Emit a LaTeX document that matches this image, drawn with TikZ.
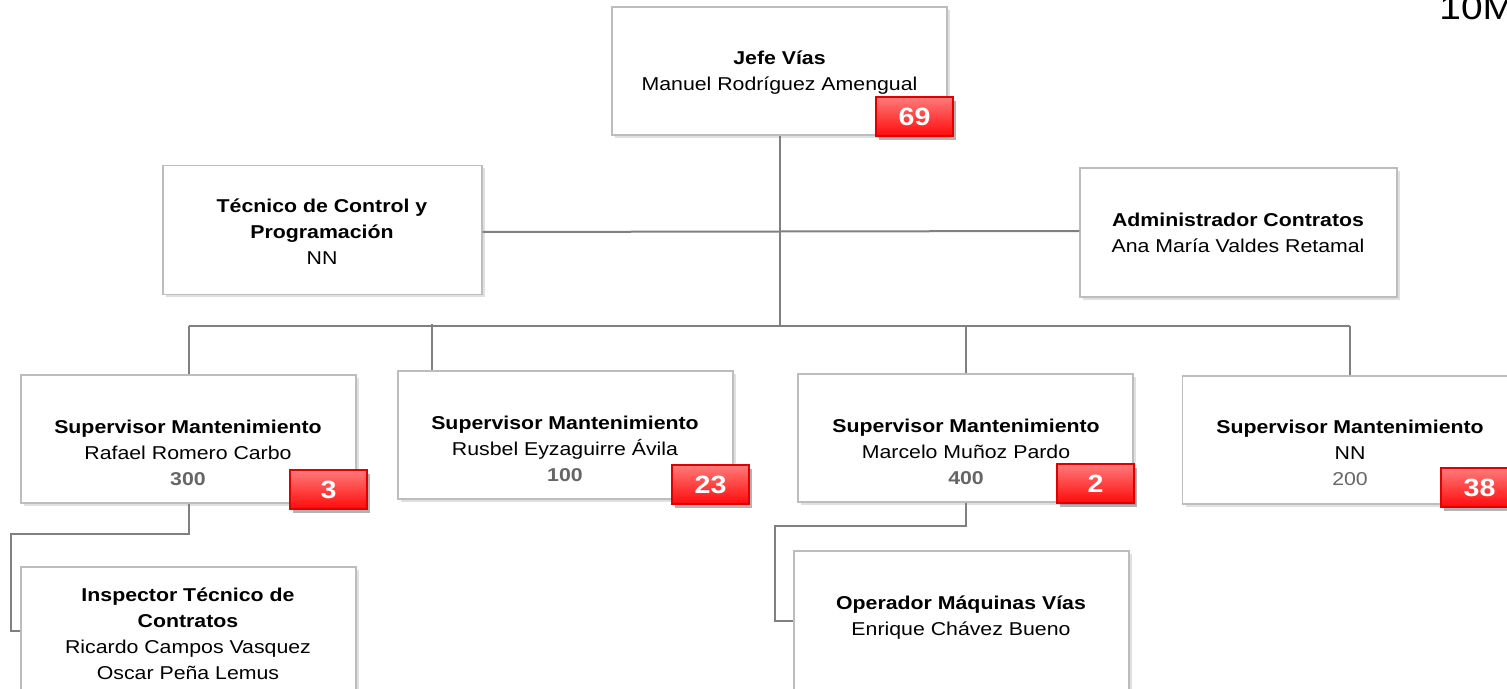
\documentclass[tikz,border=0pt]{standalone}
\usepackage{fontspec}
\setmainfont{Liberation Sans}[FakeStretch=1.145]
\usetikzlibrary{positioning,shadows}
\definecolor{lineGray}{HTML}{808080}
\definecolor{boxGray}{HTML}{BDBDBD}
\definecolor{numGray}{HTML}{666666}
\definecolor{badgeTop}{HTML}{FF7B7B}
\definecolor{badgeBot}{HTML}{FF0A0A}
\definecolor{badgeLine}{HTML}{E00000}
\tikzset {
    style A/.style={
        fill=white,
        draw=boxGray,
        line width=.7pt,
        rectangle, % Set the shape as a rectangle
        minimum width=167.5pt,
        minimum height=64pt,
        drop shadow={shadow xshift=1.5pt, shadow yshift=-1.5pt, opacity=.12, fill=black},
    },
    style B/.style={
        font=\fontsize{9.3}{13}\selectfont,
        align=center,
        inner sep=0pt,
    },
    style C/.style={
        top color=badgeTop,
        bottom color=badgeBot,
        draw=badgeLine,
        line width=.6pt,
        rectangle, % Set the shape as a rectangle
        minimum width=38.5pt,
        minimum height=19.5pt,
        inner sep=0pt,
        text=white,
        font=\fontsize{12.5}{14}\selectfont\bfseries,
        drop shadow={shadow xshift=1.5pt, shadow yshift=-2pt, opacity=.3, fill=black},
    },
    style D/.style={
        draw=lineGray,
        line width=1pt,
    },
}

\begin{document}
\begin{tikzpicture}[x=0.5pt, y=-0.5pt]
    \useasboundingbox (0,0) rectangle (1507,689);
    \clip (0,0) rectangle (1507,689);

    % boxes
    \node[style A] (Jefe) at (779.5,71) {};
    \node[style A, minimum width=159.5pt, minimum height=64.5pt] (Tec) at (322.5,230) {};
    \node[style A, minimum width=158.5pt, minimum height=64.5pt] (Adm) at (1238.5,232.5) {};
    \node[style A] (Sup1) at (188.5,439) {};
    \node[style A] (Sup2) at (565.5,435) {};
    \node[style A] (Sup3) at (965.5,438) {};
    \node[style A] (Sup4) at (1350,440) {};
    \node[style A] (Insp) at (188.5,631) {};
    \node[style A, minimum height=70pt] (Oper) at (961.5,621) {};

    % connectors
    \coordinate (busL) at (188.5,326);
    \coordinate (busR) at (1350,326);
    \coordinate (tap2) at (432,324);
    \draw[style D] (busL) -- (busR);
    \draw[style D] (Jefe.south) -- (Jefe.south |- busL);
    \draw[style D] ([yshift=-1pt]Tec.east) -- ([yshift=.75pt]Adm.west);
    \draw[style D] (Sup1.north) -- (Sup1.north |- busL);
    \draw[style D] (tap2) -- (tap2 |- Sup2.north);
    \draw[style D] (Sup3.north) -- (Sup3.north |- busL);
    \draw[style D] (Sup4.north) -- (Sup4.north |- busL);
    \draw[style D] (Sup1.south) |- (11,534) |- (Insp.west);
    \draw[style D] (Sup3.south) |- (775,526) |- (Oper.west);

    % texts
    \node[style B] (JefeT) at (779.5,72.5) {\textbf{Jefe Vías}\\Manuel Rodríguez Amengual};
    \node[style B] (TecT) at (322,232) {\textbf{Técnico de Control y}\\\textbf{Programación}\\NN};
    \node[style B] (AdmT) at (1238,233) {\textbf{Administrador Contratos}\\Ana María Valdes Retamal};
    \node[style B] (Sup1T) at (188,453) {\textbf{Supervisor Mantenimiento}\\Rafael Romero Carbo\\\textcolor{numGray}{\textbf{300}}};
    \node[style B] (Sup2T) at (565,449) {\textbf{Supervisor Mantenimiento}\\Rusbel Eyzaguirre Ávila\\\textcolor{numGray}{\textbf{100}}};
    \node[style B] (Sup3T) at (966,452) {\textbf{Supervisor Mantenimiento}\\Marcelo Muñoz Pardo\\\textcolor{numGray}{\textbf{400}}};
    \node[style B] (Sup4T) at (1350,453) {\textbf{Supervisor Mantenimiento}\\NN\\\textcolor{numGray}{200}};
    \node[style B] (InspT) at (188,634) {\textbf{Inspector Técnico de}\\\textbf{Contratos}\\Ricardo Campos Vasquez\\Oscar Peña Lemus};
    \node[style B] (OperT) at (961,618) {\textbf{Operador Máquinas Vías}\\Enrique Chávez Bueno};

    % badges
    \node[style C] (B69) at (914.5,116.5) {69};
    \node[style C] (B3) at (328.5,489.5) {3};
    \node[style C] (B23) at (710.5,484.5) {23};
    \node[style C] (B2) at (1095.5,483.5) {2};
    \node[style C] (B38) at (1479.5,487.5) {38};

    \node[anchor=base west, inner sep=0pt, font=\fontsize{17}{20}\selectfont] (Cod) at (1439,20) {10M};
\end{tikzpicture}
\end{document}
